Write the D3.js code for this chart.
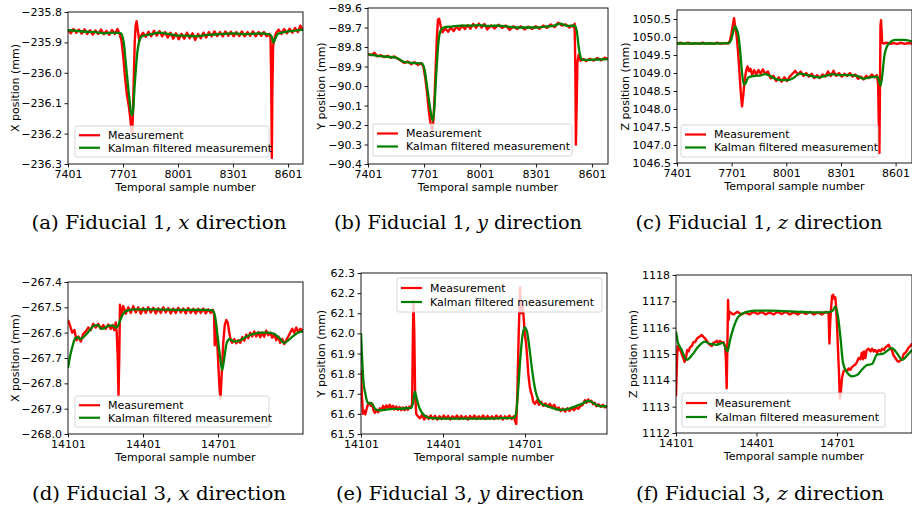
<!DOCTYPE html>
<html><head><meta charset="utf-8">
<script src="https://cdn.jsdelivr.net/npm/d3@7"></script>
<style>body{margin:0;background:#fff}svg{display:block}</style>
</head><body>
<svg id="c" width="912" height="511"></svg>
<script>
// ---------- DATA ----------
const xTicksTop = [7401, 7701, 8001, 8301, 8601];
const xTicksBottom = [14101, 14401, 14701];
const aYTicks = [-235.8, -235.9, -236.0, -236.1, -236.2, -236.3];
const bYTicks = [-89.6, -89.7, -89.8, -89.9, -90.0, -90.1, -90.2, -90.3, -90.4];
const cYTicks = [1046.5, 1047.0, 1047.5, 1048.0, 1048.5, 1049.0, 1049.5, 1050.0, 1050.5];
const dYTicks = [-267.4, -267.5, -267.6, -267.7, -267.8, -267.9, -268.0];
const eYTicks = [61.5, 61.6, 61.7, 61.8, 61.9, 62.0, 62.1, 62.2, 62.3];
const fYTicks = [1112, 1113, 1114, 1115, 1116, 1117, 1118];
const legendLabels = ["Measurement", "Kalman filtered measurement"];
const yLabels = ["X position (mm)", "Y position (mm)", "Z position (mm)", "X position (mm)", "Y position (mm)", "Z position (mm)"];
const xLabel = "Temporal sample number";
const captions = [
  [["(a) Fiducial 1, ", 0], ["x", 1], [" direction", 0]],
  [["(b) Fiducial 1, ", 0], ["y", 1], [" direction", 0]],
  [["(c) Fiducial 1, ", 0], ["z", 1], [" direction", 0]],
  [["(d) Fiducial 3, ", 0], ["x", 1], [" direction", 0]],
  [["(e) Fiducial 3, ", 0], ["y", 1], [" direction", 0]],
  [["(f) Fiducial 3, ", 0], ["z", 1], [" direction", 0]]
];

// Fiducial 1, x
const aMeas = [[7401,-235.858],[7416,-235.870],[7431,-235.856],[7446,-235.868],[7461,-235.858],[7476,-235.871],[7491,-235.857],[7506,-235.872],[7521,-235.860],[7536,-235.874],[7551,-235.861],[7566,-235.872],[7581,-235.858],[7596,-235.873],[7611,-235.862],[7626,-235.875],[7641,-235.859],[7656,-235.872],[7671,-235.856],[7683,-235.872],[7693,-235.895],[7703,-235.950],[7713,-236.020],[7723,-236.075],[7733,-236.110],[7741,-236.150],[7747,-236.190],[7751,-236.200],[7755,-236.140],[7760,-236.020],[7765,-235.900],[7770,-235.845],[7775,-235.830],[7782,-235.860],[7790,-235.895],[7798,-235.880],[7810,-235.868],[7825,-235.882],[7840,-235.865],[7855,-235.880],[7870,-235.862],[7885,-235.878],[7900,-235.863],[7915,-235.880],[7930,-235.866],[7945,-235.884],[7960,-235.868],[7975,-235.888],[7990,-235.870],[8005,-235.890],[8020,-235.872],[8035,-235.888],[8050,-235.868],[8065,-235.886],[8080,-235.870],[8095,-235.892],[8110,-235.872],[8125,-235.886],[8140,-235.868],[8155,-235.884],[8170,-235.866],[8185,-235.880],[8200,-235.864],[8215,-235.879],[8230,-235.866],[8245,-235.880],[8260,-235.864],[8275,-235.878],[8290,-235.865],[8305,-235.880],[8320,-235.866],[8335,-235.879],[8350,-235.864],[8365,-235.880],[8380,-235.866],[8395,-235.878],[8410,-235.864],[8425,-235.880],[8440,-235.866],[8455,-235.878],[8470,-235.866],[8485,-235.880],[8500,-235.872],[8506,-235.885],[8510,-236.050],[8513,-236.280],[8516,-236.050],[8520,-235.910],[8527,-235.890],[8535,-235.870],[8550,-235.858],[8565,-235.872],[8580,-235.856],[8595,-235.870],[8610,-235.855],[8625,-235.868],[8640,-235.853],[8655,-235.866],[8668,-235.845],[8683,-235.860]];
const aKal = [[7401,-235.860],[7450,-235.862],[7500,-235.865],[7550,-235.866],[7600,-235.870],[7650,-235.868],[7690,-235.870],[7705,-235.900],[7720,-235.990],[7735,-236.080],[7748,-236.140],[7755,-236.130],[7765,-236.040],[7778,-235.940],[7790,-235.895],[7805,-235.880],[7850,-235.874],[7900,-235.868],[7950,-235.872],[8000,-235.878],[8050,-235.878],[8100,-235.880],[8150,-235.876],[8200,-235.874],[8250,-235.872],[8300,-235.870],[8350,-235.873],[8400,-235.872],[8450,-235.870],[8500,-235.874],[8512,-235.880],[8520,-235.900],[8530,-235.890],[8545,-235.872],[8580,-235.866],[8630,-235.862],[8683,-235.858]];

// Fiducial 1, y
const bMeas = [[7401,-89.835],[7418,-89.842],[7435,-89.830],[7452,-89.848],[7470,-89.842],[7488,-89.852],[7506,-89.845],[7524,-89.855],[7542,-89.848],[7560,-89.860],[7578,-89.870],[7596,-89.882],[7614,-89.874],[7632,-89.888],[7650,-89.878],[7668,-89.892],[7686,-89.882],[7698,-89.900],[7708,-89.960],[7718,-90.040],[7726,-90.120],[7734,-90.180],[7740,-90.210],[7746,-90.230],[7752,-90.170],[7758,-90.050],[7764,-89.900],[7770,-89.750],[7776,-89.660],[7782,-89.655],[7790,-89.690],[7800,-89.725],[7815,-89.705],[7830,-89.722],[7845,-89.700],[7860,-89.718],[7875,-89.695],[7890,-89.712],[7905,-89.690],[7920,-89.708],[7935,-89.688],[7950,-89.706],[7965,-89.682],[7980,-89.702],[7995,-89.680],[8010,-89.700],[8025,-89.682],[8040,-89.710],[8060,-89.690],[8080,-89.705],[8100,-89.686],[8120,-89.702],[8140,-89.690],[8160,-89.712],[8180,-89.694],[8200,-89.708],[8220,-89.694],[8240,-89.710],[8260,-89.696],[8280,-89.708],[8300,-89.694],[8320,-89.706],[8340,-89.690],[8360,-89.702],[8380,-89.684],[8400,-89.698],[8420,-89.676],[8440,-89.690],[8460,-89.684],[8480,-89.700],[8495,-89.690],[8505,-89.700],[8508,-89.680],[8512,-89.900],[8515,-90.300],[8519,-90.100],[8523,-89.880],[8530,-89.840],[8540,-89.870],[8555,-89.862],[8570,-89.872],[8590,-89.860],[8610,-89.870],[8630,-89.856],[8650,-89.868],[8670,-89.855],[8687,-89.862]];
const bKal = [[7401,-89.838],[7450,-89.845],[7500,-89.850],[7550,-89.855],[7600,-89.878],[7650,-89.882],[7690,-89.885],[7705,-89.920],[7720,-90.020],[7735,-90.120],[7748,-90.180],[7756,-90.120],[7766,-89.950],[7778,-89.780],[7790,-89.715],[7805,-89.700],[7850,-89.695],[7900,-89.690],[7950,-89.690],[8000,-89.688],[8050,-89.692],[8100,-89.690],[8150,-89.696],[8200,-89.700],[8250,-89.700],[8300,-89.700],[8350,-89.696],[8400,-89.690],[8430,-89.680],[8470,-89.692],[8510,-89.690],[8520,-89.720],[8530,-89.800],[8540,-89.850],[8550,-89.866],[8580,-89.866],[8630,-89.864],[8687,-89.862]];

// Fiducial 1, z
const cMeas = [[7401,1049.82],[7421,1049.84],[7441,1049.81],[7461,1049.84],[7481,1049.81],[7501,1049.83],[7521,1049.81],[7541,1049.84],[7561,1049.81],[7581,1049.83],[7601,1049.81],[7621,1049.84],[7641,1049.81],[7661,1049.83],[7681,1049.82],[7692,1049.90],[7700,1050.10],[7708,1050.35],[7714,1050.52],[7720,1050.30],[7728,1050.05],[7736,1049.60],[7744,1049.00],[7752,1048.40],[7758,1048.07],[7765,1048.40],[7772,1048.80],[7780,1049.05],[7788,1049.18],[7796,1049.05],[7804,1049.12],[7814,1048.95],[7824,1049.08],[7836,1048.96],[7848,1049.08],[7860,1048.98],[7872,1049.10],[7885,1048.98],[7900,1049.04],[7915,1048.85],[7930,1048.92],[7945,1048.78],[7960,1048.88],[7975,1048.76],[7990,1048.88],[8005,1048.78],[8020,1048.90],[8035,1048.98],[8050,1049.06],[8065,1048.95],[8080,1049.04],[8095,1048.92],[8110,1049.00],[8125,1048.90],[8140,1048.98],[8155,1048.86],[8170,1048.94],[8185,1048.86],[8200,1048.96],[8215,1048.90],[8230,1049.04],[8245,1048.92],[8260,1049.06],[8275,1048.92],[8290,1049.00],[8305,1048.90],[8320,1048.98],[8335,1048.92],[8350,1049.00],[8365,1048.90],[8380,1048.96],[8395,1048.84],[8410,1048.90],[8425,1048.82],[8440,1048.92],[8455,1048.86],[8470,1048.96],[8485,1048.88],[8498,1048.94],[8505,1048.70],[8509,1047.50],[8512,1046.78],[8515,1048.50],[8518,1050.30],[8521,1050.47],[8524,1050.20],[8527,1049.84],[8535,1049.82],[8550,1049.84],[8570,1049.81],[8590,1049.83],[8610,1049.81],[8630,1049.84],[8650,1049.81],[8670,1049.83],[8691,1049.82]];
const cKal = [[7401,1049.82],[7500,1049.82],[7600,1049.82],[7685,1049.83],[7700,1049.95],[7712,1050.20],[7720,1050.30],[7728,1050.22],[7738,1050.05],[7748,1049.60],[7758,1049.00],[7768,1048.68],[7778,1048.72],[7790,1048.86],[7805,1048.90],[7830,1048.92],[7860,1048.93],[7885,1048.97],[7910,1048.92],[7940,1048.84],[7970,1048.80],[8010,1048.80],[8040,1048.86],[8075,1048.98],[8110,1048.95],[8150,1048.90],[8180,1048.88],[8220,1048.93],[8260,1048.96],[8300,1048.94],[8350,1048.94],[8390,1048.92],[8425,1048.84],[8460,1048.88],[8500,1048.90],[8512,1048.75],[8519,1048.65],[8528,1048.95],[8540,1049.50],[8555,1049.75],[8575,1049.87],[8600,1049.92],[8640,1049.92],[8691,1049.88]];

// Fiducial 3, x
const dMeas = [[14101,-267.550],[14110,-267.575],[14118,-267.600],[14127,-267.590],[14135,-267.630],[14143,-267.615],[14152,-267.635],[14162,-267.605],[14172,-267.595],[14182,-267.580],[14192,-267.590],[14202,-267.565],[14212,-267.580],[14222,-267.565],[14232,-267.585],[14242,-267.570],[14252,-267.585],[14262,-267.568],[14272,-267.585],[14280,-267.570],[14286,-267.590],[14292,-267.560],[14296,-267.600],[14300,-267.700],[14303,-267.850],[14306,-267.700],[14309,-267.490],[14314,-267.530],[14322,-267.495],[14332,-267.525],[14342,-267.500],[14352,-267.522],[14362,-267.495],[14372,-267.520],[14382,-267.500],[14392,-267.525],[14402,-267.503],[14412,-267.522],[14422,-267.500],[14432,-267.520],[14442,-267.502],[14452,-267.524],[14462,-267.504],[14472,-267.522],[14482,-267.500],[14492,-267.520],[14502,-267.503],[14512,-267.524],[14522,-267.505],[14532,-267.522],[14542,-267.502],[14552,-267.520],[14562,-267.505],[14572,-267.524],[14582,-267.503],[14592,-267.522],[14602,-267.506],[14612,-267.524],[14622,-267.506],[14632,-267.522],[14642,-267.505],[14652,-267.524],[14662,-267.508],[14672,-267.522],[14680,-267.510],[14685,-267.525],[14688,-267.650],[14692,-267.560],[14697,-267.620],[14702,-267.720],[14707,-267.820],[14711,-267.860],[14716,-267.760],[14722,-267.640],[14728,-267.570],[14734,-267.550],[14740,-267.560],[14746,-267.600],[14752,-267.630],[14758,-267.640],[14766,-267.625],[14774,-267.642],[14782,-267.630],[14790,-267.640],[14798,-267.618],[14806,-267.632],[14814,-267.608],[14822,-267.622],[14830,-267.600],[14838,-267.615],[14846,-267.595],[14854,-267.615],[14862,-267.598],[14870,-267.618],[14878,-267.600],[14886,-267.616],[14894,-267.592],[14902,-267.610],[14910,-267.600],[14918,-267.620],[14926,-267.605],[14934,-267.630],[14942,-267.615],[14950,-267.640],[14958,-267.625],[14966,-267.645],[14974,-267.630],[14982,-267.615],[14990,-267.600],[14998,-267.585],[15006,-267.600],[15014,-267.580],[15022,-267.598],[15030,-267.585],[15041,-267.592]];
const dKal = [[14101,-267.740],[14110,-267.690],[14120,-267.650],[14130,-267.622],[14140,-267.618],[14150,-267.625],[14160,-267.620],[14175,-267.605],[14190,-267.588],[14205,-267.572],[14220,-267.570],[14235,-267.585],[14250,-267.580],[14265,-267.572],[14280,-267.572],[14292,-267.580],[14300,-267.575],[14310,-267.550],[14322,-267.525],[14340,-267.512],[14370,-267.508],[14450,-267.508],[14550,-267.510],[14650,-267.510],[14680,-267.512],[14690,-267.540],[14700,-267.620],[14710,-267.700],[14718,-267.748],[14726,-267.700],[14736,-267.640],[14748,-267.625],[14765,-267.635],[14790,-267.630],[14815,-267.615],[14845,-267.605],[14870,-267.600],[14900,-267.600],[14925,-267.605],[14945,-267.620],[14965,-267.640],[14980,-267.632],[15000,-267.615],[15020,-267.600],[15041,-267.595]];

// Fiducial 3, y
const eMeas = [[14101,61.82],[14104,61.70],[14108,61.600],[14113,61.615],[14117,61.598],[14122,61.628],[14127,61.648],[14132,61.655],[14137,61.640],[14142,61.650],[14147,61.615],[14152,61.605],[14158,61.620],[14164,61.608],[14170,61.628],[14176,61.618],[14182,61.640],[14188,61.625],[14194,61.642],[14200,61.630],[14206,61.645],[14212,61.628],[14218,61.640],[14224,61.622],[14230,61.636],[14236,61.620],[14242,61.634],[14248,61.618],[14254,61.632],[14260,61.618],[14266,61.634],[14272,61.620],[14278,61.636],[14284,61.630],[14288,61.650],[14291,62.000],[14293,62.160],[14296,62.000],[14299,61.700],[14303,61.600],[14308,61.590],[14316,61.578],[14324,61.595],[14332,61.572],[14340,61.590],[14348,61.575],[14356,61.592],[14364,61.574],[14372,61.590],[14380,61.572],[14388,61.588],[14396,61.574],[14404,61.592],[14412,61.576],[14420,61.590],[14428,61.572],[14436,61.588],[14444,61.576],[14452,61.592],[14460,61.574],[14468,61.590],[14476,61.576],[14484,61.588],[14492,61.572],[14500,61.590],[14508,61.576],[14516,61.592],[14524,61.574],[14532,61.588],[14540,61.576],[14548,61.592],[14556,61.574],[14564,61.590],[14572,61.576],[14580,61.588],[14588,61.574],[14596,61.592],[14604,61.576],[14612,61.590],[14620,61.572],[14628,61.588],[14636,61.576],[14644,61.592],[14652,61.574],[14660,61.588],[14666,61.560],[14669,61.550],[14673,61.700],[14678,62.000],[14683,62.230],[14687,62.100],[14691,62.140],[14695,62.100],[14700,62.000],[14705,61.950],[14709,61.880],[14713,61.800],[14718,61.740],[14722,61.710],[14727,61.690],[14731,61.660],[14738,61.650],[14745,61.668],[14752,61.645],[14760,61.660],[14768,61.640],[14776,61.652],[14784,61.636],[14792,61.650],[14800,61.632],[14808,61.645],[14816,61.622],[14824,61.632],[14832,61.614],[14840,61.626],[14848,61.612],[14856,61.628],[14864,61.615],[14872,61.630],[14880,61.618],[14888,61.634],[14896,61.625],[14904,61.640],[14912,61.645],[14920,61.668],[14926,61.655],[14932,61.672],[14938,61.660],[14944,61.665],[14950,61.648],[14956,61.655],[14962,61.638],[14970,61.648],[14978,61.635],[14986,61.645],[14994,61.632],[15001,61.640]];
const eKal = [[14101,62.000],[14105,61.880],[14110,61.760],[14117,61.700],[14124,61.660],[14131,61.652],[14138,61.655],[14146,61.640],[14155,61.622],[14170,61.618],[14190,61.620],[14210,61.624],[14240,61.625],[14270,61.628],[14285,61.630],[14292,61.660],[14298,61.710],[14304,61.680],[14312,61.640],[14322,61.610],[14335,61.590],[14350,61.580],[14400,61.576],[14500,61.576],[14600,61.578],[14660,61.580],[14668,61.600],[14676,61.720],[14684,61.880],[14692,61.990],[14700,62.030],[14708,62.010],[14716,61.940],[14724,61.850],[14732,61.770],[14740,61.710],[14750,61.670],[14762,61.650],[14780,61.640],[14800,61.630],[14830,61.620],[14860,61.625],[14890,61.640],[14910,61.650],[14925,61.662],[14935,61.665],[14950,61.655],[14965,61.642],[14985,61.638],[15001,61.638]];

// Fiducial 3, z
const fMeas = [[14101,1113.40],[14104,1114.50],[14107,1115.30],[14112,1115.15],[14117,1115.20],[14122,1115.00],[14128,1114.85],[14133,1114.70],[14138,1114.85],[14143,1115.15],[14148,1115.10],[14153,1115.25],[14160,1115.30],[14166,1115.45],[14172,1115.45],[14180,1115.60],[14188,1115.65],[14197,1115.72],[14203,1115.65],[14209,1115.60],[14216,1115.50],[14222,1115.40],[14228,1115.35],[14234,1115.30],[14240,1115.42],[14247,1115.45],[14254,1115.50],[14260,1115.40],[14265,1115.50],[14272,1115.42],[14278,1115.45],[14284,1115.30],[14287,1114.80],[14290,1113.70],[14293,1115.50],[14295,1117.05],[14298,1116.30],[14300,1116.60],[14315,1116.50],[14330,1116.60],[14345,1116.50],[14360,1116.58],[14375,1116.50],[14390,1116.60],[14405,1116.52],[14420,1116.60],[14435,1116.50],[14450,1116.58],[14465,1116.50],[14480,1116.60],[14495,1116.52],[14510,1116.60],[14525,1116.50],[14540,1116.58],[14555,1116.50],[14570,1116.60],[14585,1116.52],[14600,1116.60],[14615,1116.50],[14630,1116.58],[14645,1116.50],[14660,1116.60],[14670,1116.55],[14673,1115.40],[14676,1116.20],[14679,1116.70],[14683,1117.20],[14687,1117.25],[14691,1117.10],[14695,1117.15],[14698,1116.80],[14701,1116.20],[14705,1115.20],[14709,1114.20],[14712,1113.30],[14715,1113.50],[14720,1114.10],[14726,1114.35],[14732,1114.40],[14739,1114.35],[14745,1114.45],[14751,1114.40],[14757,1114.50],[14763,1114.55],[14770,1114.60],[14776,1114.70],[14782,1114.85],[14788,1114.80],[14794,1115.05],[14798,1114.80],[14802,1115.10],[14807,1114.85],[14812,1115.15],[14819,1115.20],[14826,1115.10],[14832,1115.20],[14838,1115.10],[14844,1115.15],[14850,1115.05],[14857,1115.15],[14864,1115.10],[14870,1115.20],[14876,1115.15],[14882,1115.25],[14888,1115.30],[14894,1115.35],[14900,1115.20],[14906,1115.15],[14912,1114.95],[14919,1114.85],[14925,1114.75],[14931,1114.70],[14937,1114.75],[14944,1114.80],[14950,1115.00],[14957,1115.05],[14963,1115.15],[14969,1115.25],[14975,1115.30],[14981,1115.40]];
const fKal = [[14101,1115.85],[14108,1115.45],[14120,1115.20],[14141,1114.78],[14160,1114.95],[14184,1115.28],[14209,1115.47],[14228,1115.38],[14253,1115.35],[14275,1115.42],[14293,1115.10],[14303,1115.55],[14315,1115.98],[14334,1116.42],[14365,1116.60],[14402,1116.65],[14450,1116.65],[14500,1116.63],[14560,1116.60],[14620,1116.58],[14665,1116.58],[14686,1116.65],[14695,1116.80],[14704,1116.50],[14714,1115.65],[14724,1114.65],[14739,1114.30],[14757,1114.15],[14776,1114.20],[14794,1114.40],[14813,1114.58],[14832,1114.62],[14850,1114.97],[14875,1115.02],[14906,1115.22],[14925,1115.03],[14944,1114.78],[14963,1114.95],[14981,1115.15]];

// ---------- LAYOUT ----------
const panels = [
  {meas:aMeas, kal:aKal, xDom:[7401,8683], yDom:[-236.3,-235.8], yTicks:aYTicks, fmt:".1f", xTicks:xTicksTop, L:68, R:303, T:12, B:164, ylabX:15, leg:{x:75,y:126,w:194,h:31}, cap:{x:159,y:229,w:255}},
  {meas:bMeas, kal:bKal, xDom:[7401,8687], yDom:[-90.4,-89.6], yTicks:bYTicks, fmt:".1f", xTicks:xTicksTop, L:368, R:608, T:8, B:164, ylabX:321, leg:{x:373,y:124,w:199,h:32}, cap:{x:458,y:229,w:248}},
  {meas:cMeas, kal:cKal, xDom:[7401,8691], yDom:[1046.5,1050.75], yTicks:cYTicks, fmt:".1f", xTicks:xTicksTop, L:677, R:912, T:10, B:163, ylabX:625, leg:{x:681,y:125,w:197,h:32}, cap:{x:759,y:229,w:247}},
  {meas:dMeas, kal:dKal, xDom:[14101,15041], yDom:[-268.0,-267.4], yTicks:dYTicks, fmt:".1f", xTicks:xTicksBottom, L:68, R:303, T:282, B:434, ylabX:15, leg:{x:75,y:396,w:194,h:31}, cap:{x:159,y:500,w:254}},
  {meas:eMeas, kal:eKal, xDom:[14101,15001], yDom:[61.5,62.3], yTicks:eYTicks, fmt:".1f", xTicks:xTicksBottom, L:361, R:607, T:273, B:434, ylabX:321, leg:{x:397,y:278,w:205,h:34}, cap:{x:460,y:500,w:248}},
  {meas:fMeas, kal:fKal, xDom:[14101,14981], yDom:[1112,1118], yTicks:fYTicks, fmt:"d", xTicks:xTicksBottom, L:676, R:912, T:275, B:433, ylabX:633, leg:{x:682,y:393,w:203,h:34}, cap:{x:760,y:500,w:248}}
];

const RED = "#ff0000", GREEN = "#008000";
const FONT = "DejaVu Sans, sans-serif";
const svg = d3.select("#c");
const defs = svg.append("defs");

panels.forEach((p, i) => {
  const x = d3.scaleLinear().domain(p.xDom).range([p.L, p.R]);
  const y = d3.scaleLinear().domain(p.yDom).range([p.B, p.T]);
  const g = svg.append("g");
  defs.append("clipPath").attr("id", "clip" + i)
    .append("rect").attr("x", p.L).attr("y", p.T).attr("width", p.R - p.L).attr("height", p.B - p.T);

  const plot = g.append("g").attr("clip-path", `url(#clip${i})`);
  const lineM = d3.line().x(d => x(d[0])).y(d => y(d[1]));
  const lineK = d3.line().x(d => x(d[0])).y(d => y(d[1])).curve(d3.curveMonotoneX);
  plot.append("path").datum(p.meas).attr("d", lineM)
    .attr("fill", "none").attr("stroke", RED).attr("stroke-width", 2.4).attr("stroke-linejoin", "round");
  plot.append("path").datum(p.kal).attr("d", lineK)
    .attr("fill", "none").attr("stroke", GREEN).attr("stroke-width", 2.3).attr("stroke-linejoin", "round");

  // axes
  const fmt = d3.format(p.fmt);
  const xa = g.append("g").attr("transform", `translate(0,${p.B})`)
    .call(d3.axisBottom(x).tickValues(p.xTicks).tickSize(3.5).tickPadding(2).tickFormat(d3.format("d")));
  const ya = g.append("g").attr("transform", `translate(${p.L},0)`)
    .call(d3.axisLeft(y).tickValues(p.yTicks).tickSize(3.5).tickPadding(2.5).tickFormat(fmt));
  [xa, ya].forEach(a => {
    a.select(".domain").remove();
    a.selectAll("text").attr("font-family", FONT).attr("font-size", 11).attr("fill", "#000");
    a.selectAll("line").attr("stroke", "#000").attr("stroke-width", 0.9);
  });
  xa.selectAll("text").attr("dy", "0.8em");

  // frame
  g.append("rect").attr("x", p.L).attr("y", p.T).attr("width", p.R - p.L).attr("height", p.B - p.T)
    .attr("fill", "none").attr("stroke", "#000").attr("stroke-width", 0.9);

  // labels
  g.append("text").attr("x", (p.L + p.R) / 2).attr("y", p.B + 27)
    .attr("text-anchor", "middle").attr("font-family", FONT).attr("font-size", 11).text(xLabel);
  g.append("text").attr("transform", `translate(${p.ylabX},${(p.T + p.B) / 2}) rotate(-90)`)
    .attr("text-anchor", "middle").attr("dy", "0.35em").attr("font-family", FONT).attr("font-size", 11).text(yLabels[i]);

  // legend
  const lg = g.append("g");
  lg.append("rect").attr("x", p.leg.x).attr("y", p.leg.y).attr("width", p.leg.w).attr("height", p.leg.h)
    .attr("rx", 2).attr("fill", "#fff").attr("fill-opacity", 0.8).attr("stroke", "#cccccc").attr("stroke-width", 0.8);
  const rowH = (p.leg.h - 2) / 2;
  [RED, GREEN].forEach((col, k) => {
    const cy = p.leg.y + 1 + rowH * (k + 0.5) + (k === 0 ? 1 : -1);
    lg.append("line").attr("x1", p.leg.x + 4).attr("x2", p.leg.x + 25).attr("y1", cy).attr("y2", cy)
      .attr("stroke", col).attr("stroke-width", 2.2);
    lg.append("text").attr("x", p.leg.x + 33).attr("y", cy).attr("dy", "0.36em")
      .attr("font-family", FONT).attr("font-size", 11).text(legendLabels[k]);
  });

  // caption
  const t = svg.append("text").attr("x", p.cap.x).attr("y", p.cap.y).attr("text-anchor", "middle")
    .attr("font-family", "DejaVu Serif, serif").attr("font-size", 18).attr("fill", "#000")
    .attr("textLength", p.cap.w).attr("lengthAdjust", "spacingAndGlyphs");
  captions[i].forEach(([s, it]) => {
    t.append("tspan").attr("font-style", it ? "italic" : "normal").text(s);
  });
});
</script>
</body></html>
